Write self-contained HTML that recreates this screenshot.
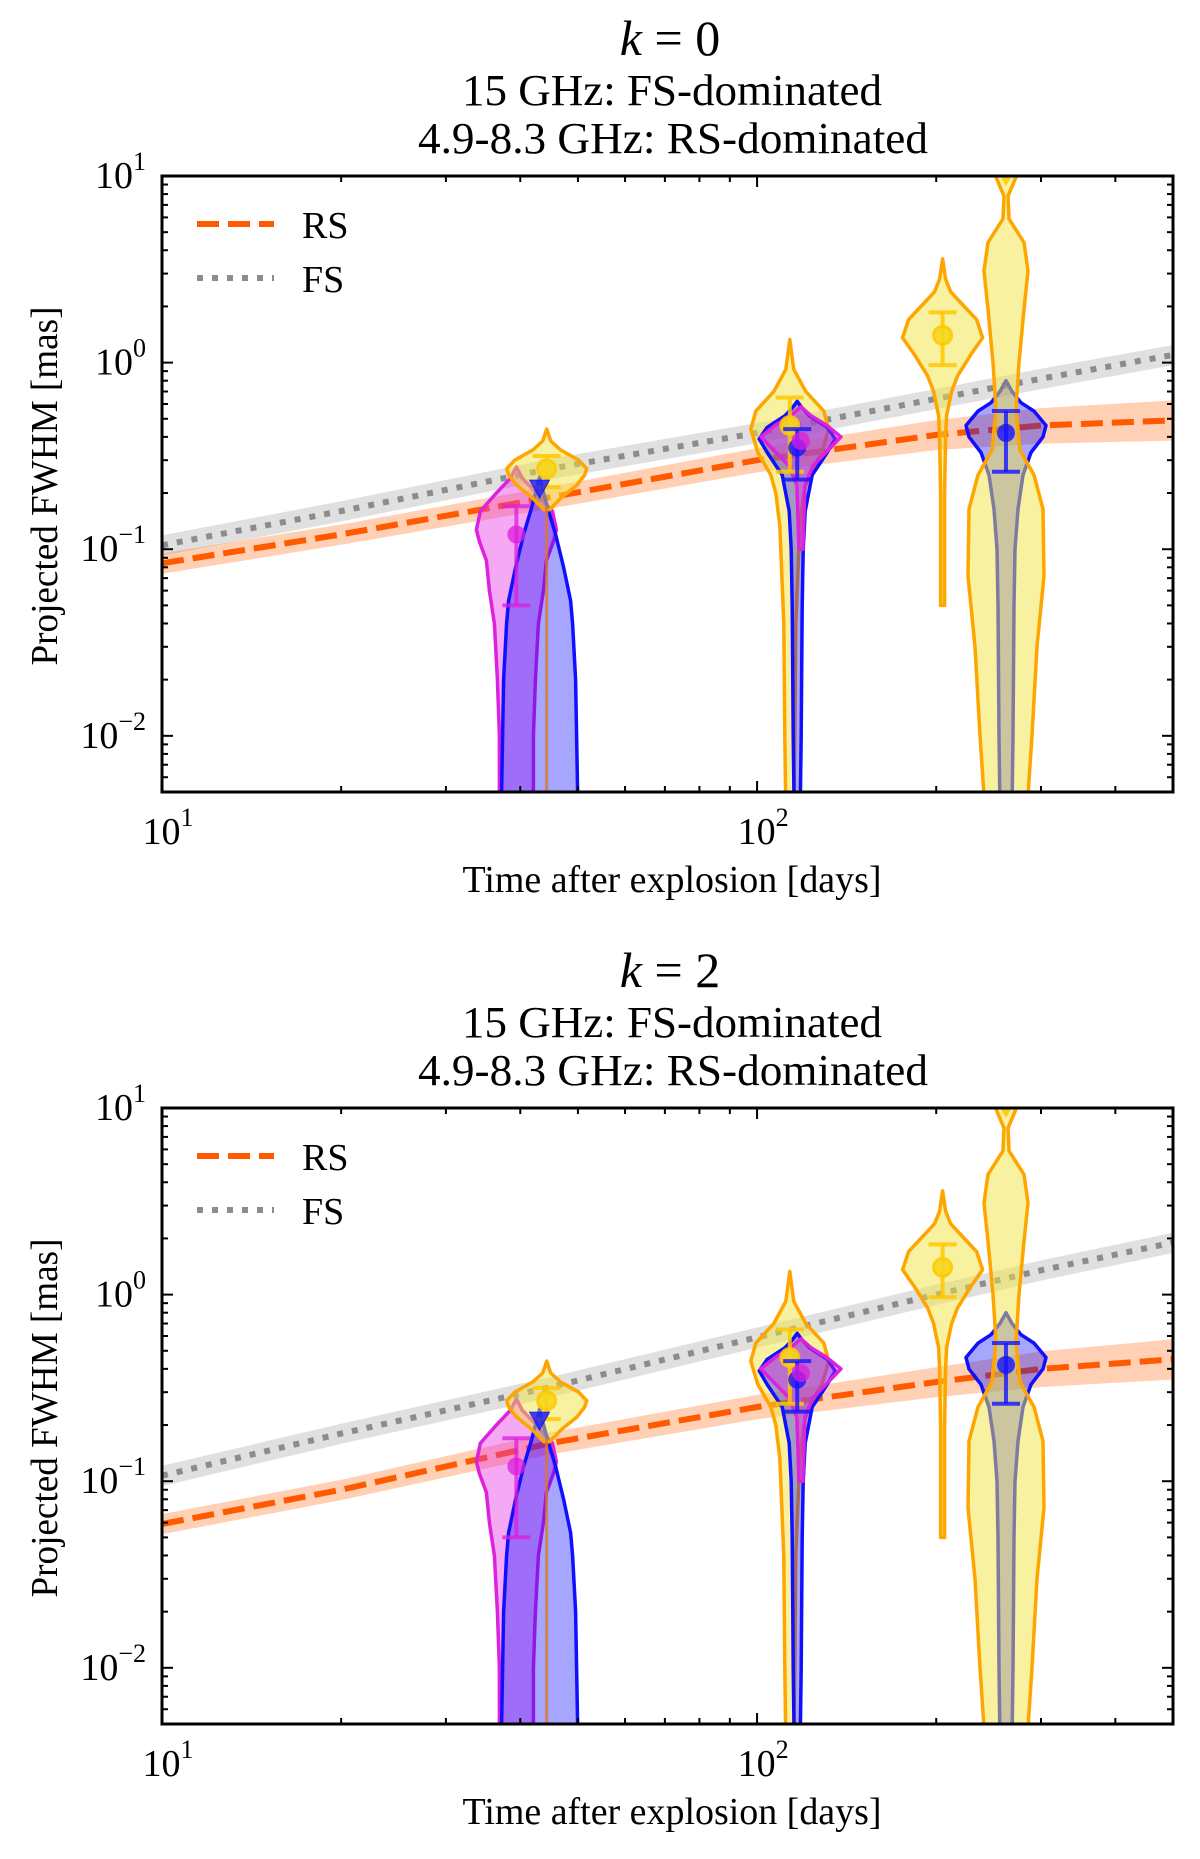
<!DOCTYPE html>
<html><head><meta charset="utf-8">
<style>
html,body{margin:0;padding:0;background:#fff;}
svg{display:block;font-family:"Liberation Serif",serif;}
</style></head>
<body>
<svg id="fig" width="1200" height="1859" viewBox="0 0 1200 1859" xmlns="http://www.w3.org/2000/svg"></svg>
<script>
// ---------- data ----------
const tGrid = [10, 20, 45, 100, 200, 300, 500];
const rsK0 = [0.084, 0.12, 0.19, 0.30, 0.41, 0.46, 0.49];
const fsK0 = [0.105, 0.16, 0.27, 0.42, 0.64, 0.82, 1.1];
const rsK2 = [0.059, 0.09, 0.16, 0.25, 0.34, 0.40, 0.45];
const fsK2 = [0.107, 0.18, 0.32, 0.59, 1.0, 1.35, 1.9];
const rsBandLo = [0.88, 0.88, 0.87, 0.86, 0.83, 0.80, 0.78];
const rsBandHi = [1.13, 1.13, 1.14, 1.16, 1.2, 1.24, 1.28];
const fsBandLo = [0.88, 0.88, 0.88, 0.88, 0.88, 0.88, 0.88];
const fsBandHi = [1.13, 1.13, 1.13, 1.13, 1.13, 1.13, 1.13];
const titles = ["k = 0", "k = 2"];
const xTickLabels = ["1", "2"];
const yTickExps = ["1", "0", "\u22121", "\u22122"];

// violins: epoch, y-levels, density (half-width) values
const vMagA_t = 39.4;
const vMagA_y = [0.004, 0.01, 0.02, 0.04, 0.06, 0.087, 0.11, 0.127, 0.16, 0.2, 0.24, 0.276];
const vMagA_w = [17, 17, 19, 22, 27, 30, 37, 40, 36, 20, 6, 0];
const vBlueA_t = 43.1;
const vBlueA_y = [0.004, 0.005, 0.01, 0.02, 0.04, 0.053, 0.08, 0.12, 0.16, 0.2, 0.244];
const vBlueA_w = [38, 38, 37, 36, 33, 31, 24, 16, 9, 4, 0];
const vOrA_t = 44.3;
const vOrA_y = [0.163, 0.19, 0.22, 0.25, 0.27, 0.3, 0.34, 0.38, 0.44];
const vOrA_w = [3, 15, 30, 38, 40, 32, 14, 4, 0];
const vOrB_t = 113.5;
const vOrB_y = [0.004, 0.01, 0.04, 0.073, 0.133, 0.2, 0.25, 0.33, 0.44, 0.55, 0.7, 0.92, 1.1, 1.33];
const vOrB_w = [4, 5, 6, 8, 10, 14, 19, 32, 39, 34, 16, 4, 2, 0];
const vBlueB_t = 116.8;
const vBlueB_y = [0.004, 0.01, 0.05, 0.1, 0.16, 0.25, 0.33, 0.39, 0.45, 0.52, 0.58, 0.62];
const vBlueB_w = [3, 4, 5, 6, 8, 15, 30, 38, 30, 12, 4, 0];
const vMagB_t = 118.5;
const vMagB_y = [0.1, 0.15, 0.22, 0.28, 0.33, 0.4, 0.46, 0.52, 0.58];
const vMagB_w = [2, 3, 4, 12, 25, 40, 26, 10, 0];
const vOrC_t = 205;
const vOrC_y = [0.05, 0.2, 0.4, 0.52, 0.7, 0.85, 1.1, 1.36, 1.7, 2.1, 2.4, 2.8, 3.6];
const vOrC_w = [2, 2, 3, 4, 9, 15, 28, 40, 34, 18, 8, 3, 0];
const vOrD_t = 262;
const vOrD_y = [0.004, 0.01, 0.03, 0.072, 0.164, 0.25, 0.34, 0.56, 1.0, 1.93, 3.1, 4.4, 5.9, 7.8, 9.3, 10.5];
const vOrD_w = [21, 26, 31, 38, 37, 28, 14, 10, 13, 18, 22, 18, 3, 2, 8, 12];
const vBlueC_t = 262;
const vBlueC_y = [0.004, 0.01, 0.05, 0.1, 0.164, 0.25, 0.33, 0.4, 0.46, 0.55, 0.61, 0.7, 0.8];
const vBlueC_w = [6, 7, 8, 9, 12, 17, 25, 37, 40, 28, 15, 6, 0];

// points with error bars: t, value, lo, hi
const ptT = [39.4, 44.3, 113.5, 116.8, 118.5, 205, 262];
const ptV = [0.12, 0.27, 0.46, 0.35, 0.38, 1.4, 0.42];
const ptLo = [0.05, 0.215, 0.26, 0.236, 0.38, 0.97, 0.26];
const ptHi = [0.17, 0.316, 0.65, 0.44, 0.38, 1.86, 0.55];
const ptColor = ["magenta", "orange", "orange", "blue", "magenta", "orange", "blue"];
// upper-limit triangles: t, value
const triT = [43.1, 262];
const triV = [0.21, 10];
const triColor = ["blue", "orange"];

// ---------- layout ----------
const NS = "http://www.w3.org/2000/svg";
const svg = document.getElementById("fig");
const L = 162, R = 1173, XMIN = 10, XMAX = 500, YMIN = 0.005, YMAX = 10;
const panelTops = [176, 1108];
const PH = 616;
const COLORS = {
  magenta: {stroke: "#dd22dd", fill: "rgba(230,40,230,0.4)", pt: "rgba(220,30,220,0.75)"},
  blue: {stroke: "#1010ff", fill: "rgba(0,0,255,0.35)", pt: "rgba(20,20,255,0.8)"},
  orange: {stroke: "#ffa500", fill: "rgba(240,228,66,0.5)", pt: "rgba(255,200,0,0.85)"}
};

function el(tag, attrs, parent) {
  const e = document.createElementNS(NS, tag);
  for (const k in attrs) e.setAttribute(k, attrs[k]);
  (parent || svg).appendChild(e);
  return e;
}
function xs(t) { return L + (Math.log10(t) - Math.log10(XMIN)) / (Math.log10(XMAX) - Math.log10(XMIN)) * (R - L); }
function ysF(T) { return v => T + (Math.log10(YMAX) - Math.log10(v)) / (Math.log10(YMAX) - Math.log10(YMIN)) * PH; }

function drawViolin(g, ys, t, yv, wv, col, nm) {
  const cx = xs(t);
  let right = [], left = [];
  for (let i = 0; i < yv.length; i++) {
    right.push((cx + wv[i]).toFixed(1) + "," + ys(yv[i]).toFixed(1));
    left.unshift((cx - wv[i]).toFixed(1) + "," + ys(yv[i]).toFixed(1));
  }
  const p = el("polygon", {points: right.concat(left).join(" "), fill: COLORS[col].fill, stroke: COLORS[col].stroke, "stroke-width": 3.5, "stroke-linejoin": "round"}, g);
  
  
}

function panel(idx, rs, fs) {
  const T = panelTops[idx], B = T + PH;
  const ys = ysF(T);
  const g = el("g", {});
  
  
  const cid = "clip" + idx;
  const cp = el("clipPath", {id: cid}, g);
  el("rect", {x: L, y: T, width: R - L, height: PH}, cp);
  const pg = el("g", {"clip-path": "url(#" + cid + ")"}, g);

  // titles
  const t1 = el("text", {x: 670, y: T - 121, "text-anchor": "middle", "font-size": 50}, g);
  
  
  t1.innerHTML = '<tspan font-style="italic">k</tspan> = ' + titles[idx].slice(-1);
  const t2 = el("text", {x: 672, y: T - 71, "text-anchor": "middle", "font-size": 44, textLength: 420, lengthAdjust: "spacingAndGlyphs"}, g);
  
  
  t2.textContent = "15 GHz: FS-dominated";
  const t3 = el("text", {x: 673, y: T - 23, "text-anchor": "middle", "font-size": 44, textLength: 510, lengthAdjust: "spacingAndGlyphs"}, g);
  
  
  t3.textContent = "4.9-8.3 GHz: RS-dominated";

  // bands
  function band(vals, lo, hi, fill, nm) {
    let up = [], dn = [];
    for (let i = 0; i < tGrid.length; i++) {
      up.push(xs(tGrid[i]).toFixed(1) + "," + ys(vals[i] * hi[i]).toFixed(1));
      dn.unshift(xs(tGrid[i]).toFixed(1) + "," + ys(vals[i] * lo[i]).toFixed(1));
    }
    const b = el("polygon", {points: up.concat(dn).join(" "), fill: fill, stroke: "none"}, pg);
    
    
  }
  band(fs, fsBandLo, fsBandHi, "rgba(180,180,180,0.42)", "fs-band");
  band(rs, rsBandLo, rsBandHi, "rgba(255,120,40,0.35)", "rs-band");
  function line(vals, attrs, nm) {
    const pts = tGrid.map((t, i) => xs(t).toFixed(1) + "," + ys(vals[i]).toFixed(1)).join(" ");
    const l = el("polyline", Object.assign({points: pts, fill: "none"}, attrs), pg);
    
    
  }
  line(fs, {stroke: "#8c8c8c", "stroke-width": 6, "stroke-dasharray": "6 9"}, "fs-line");
  line(rs, {stroke: "#ff5a00", "stroke-width": 6, "stroke-dasharray": "22 9"}, "rs-line");

  // violins
  drawViolin(pg, ys, vMagA_t, vMagA_y, vMagA_w, "magenta", "violin-magenta-40d");
  drawViolin(pg, ys, vBlueA_t, vBlueA_y, vBlueA_w, "blue", "violin-blue-43d");
  drawViolin(pg, ys, vOrA_t, vOrA_y, vOrA_w, "orange", "violin-orange-44d");
  const ol = el("line", {x1: xs(vOrA_t), x2: xs(vOrA_t), y1: ys(0.17), y2: B, stroke: "rgba(220,120,40,0.8)", "stroke-width": 3}, pg);
  
  
  drawViolin(pg, ys, vOrB_t, vOrB_y, vOrB_w, "orange", "violin-orange-113d");
  drawViolin(pg, ys, vBlueB_t, vBlueB_y, vBlueB_w, "blue", "violin-blue-117d");
  drawViolin(pg, ys, vMagB_t, vMagB_y, vMagB_w, "magenta", "violin-magenta-118d");
  drawViolin(pg, ys, vOrC_t, vOrC_y, vOrC_w, "orange", "violin-orange-205d");
  drawViolin(pg, ys, vBlueC_t, vBlueC_y, vBlueC_w, "blue", "violin-blue-262d");
  drawViolin(pg, ys, vOrD_t, vOrD_y, vOrD_w, "orange", "violin-orange-262d");

  // error bars & points
  for (let i = 0; i < ptT.length; i++) {
    const c = COLORS[ptColor[i]];
    const x = xs(ptT[i]);
    const eg = el("g", {stroke: c.pt, "stroke-width": 4}, pg);
    
    
    if (ptLo[i] !== ptHi[i]) {
      el("line", {x1: x, x2: x, y1: ys(ptLo[i]), y2: ys(ptHi[i])}, eg);
      el("line", {x1: x - 14, x2: x + 14, y1: ys(ptLo[i]), y2: ys(ptLo[i])}, eg);
      el("line", {x1: x - 14, x2: x + 14, y1: ys(ptHi[i]), y2: ys(ptHi[i])}, eg);
    }
    el("circle", {cx: x, cy: ys(ptV[i]), r: 9, fill: ptColor[i] === "orange" ? "rgba(245,215,30,0.9)" : c.pt, stroke: ptColor[i] === "orange" ? c.pt : "none", "stroke-width": 3}, eg);
  }
  for (let i = 0; i < triT.length; i++) {
    const x = xs(triT[i]), y = ys(triV[i]);
    const tr = el("polygon", {points: (x - 10) + "," + (y - 9) + " " + (x + 10) + "," + (y - 9) + " " + x + "," + (y + 9), fill: COLORS[triColor[i]].pt, stroke: COLORS[triColor[i]].pt, "stroke-width": 1}, pg);
    
    
  }

  // frame
  const fr = el("rect", {x: L, y: T, width: R - L, height: PH, fill: "none", stroke: "#000", "stroke-width": 3}, g);
  
  
  // ticks
  const tg = el("g", {stroke: "#000", "stroke-width": 2}, g);
  
  
  for (let d = 1; d <= 2; d++) for (let m = 1; m <= 9; m++) {
    const v = m * Math.pow(10, d);
    if (v < XMIN || v > XMAX) continue;
    const x = xs(v), len = m === 1 ? 11 : 6;
    el("line", {x1: x, x2: x, y1: B, y2: B - len}, tg);
    el("line", {x1: x, x2: x, y1: T, y2: T + len}, tg);
  }
  for (let d = -3; d <= 0; d++) for (let m = 1; m <= 9; m++) {
    const v = m * Math.pow(10, d);
    if (v < YMIN - 1e-9 || v > YMAX) continue;
    const y = ys(v), len = m === 1 ? 11 : 6;
    el("line", {x1: L, x2: L + len, y1: y, y2: y}, tg);
    el("line", {x1: R, x2: R - len, y1: y, y2: y}, tg);
  }
  // x tick labels
  [10, 100].forEach((v, i) => {
    const tx = el("text", {x: xs(v) + 6, y: B + 52, "text-anchor": "middle", "font-size": 38}, g);
    
    
    tx.innerHTML = '10<tspan dy="-18" font-size="26">' + xTickLabels[i] + '</tspan>';
  });
  // y tick labels
  [10, 1, 0.1, 0.01].forEach((v, i) => {
    const ty = el("text", {x: 146, y: ys(v) + 12, "text-anchor": "end", "font-size": 38}, g);
    
    
    ty.innerHTML = '10<tspan dy="-18" font-size="26">' + yTickExps[i] + '</tspan>';
  });
  // axis titles
  const xl = el("text", {x: 672, y: T + 716, "text-anchor": "middle", "font-size": 38, textLength: 419, lengthAdjust: "spacingAndGlyphs"}, g);
  
  
  xl.textContent = "Time after explosion [days]";
  const yl = el("text", {x: 0, y: 0, "text-anchor": "middle", "font-size": 38, textLength: 359, lengthAdjust: "spacingAndGlyphs", transform: "translate(57," + (T + 310) + ") rotate(-90)"}, g);
  
  
  yl.textContent = "Projected FWHM [mas]";
  // legend
  const lg = el("g", {}, g);
  
  
  const l1 = el("line", {x1: 197, x2: 274, y1: T + 48, y2: T + 48, stroke: "#ff5a00", "stroke-width": 6, "stroke-dasharray": "22 9"}, lg);
  
  
  const lt1 = el("text", {x: 302, y: T + 62, "font-size": 38}, lg);
  
  
  lt1.textContent = "RS";
  const l2 = el("line", {x1: 197, x2: 274, y1: T + 102, y2: T + 102, stroke: "#8c8c8c", "stroke-width": 6, "stroke-dasharray": "6 9"}, lg);
  
  
  const lt2 = el("text", {x: 302, y: T + 116, "font-size": 38}, lg);
  
  
  lt2.textContent = "FS";
}

panel(0, rsK0, fsK0);
panel(1, rsK2, fsK2);
</script>
</body></html>
